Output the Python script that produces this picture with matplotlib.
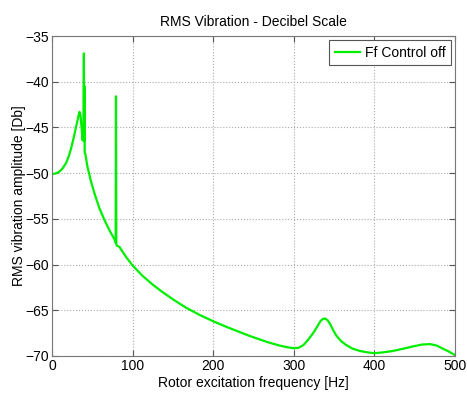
import matplotlib
matplotlib.use("Agg")
import matplotlib.pyplot as plt

plt.rcParams['font.family'] = ['Liberation Sans', 'DejaVu Sans']

freq_hz = [0, 4, 9, 13, 17.5, 21, 23.7, 26.5, 29, 31.5, 33, 34.2, 35.3, 36.8, 38.0,
           39.0, 39.6, 40.0, 40.3, 40.6, 41.4, 44, 48.4, 53, 58.7, 65, 71, 77.3,
           79.0, 79.4, 79.8, 80.2, 84, 87.6, 93, 100, 112, 125, 137, 150, 166, 183,
           200, 216, 232, 245, 258, 270, 282, 292, 300, 306, 312, 318, 324, 329,
           333, 336, 339, 342, 345, 349, 353, 359, 365, 373, 382, 391, 400, 411,
           423, 436, 448, 459, 469, 477, 485, 492, 500]
rms_db = [-50.1, -50.05, -49.85, -49.5, -48.9, -48.1, -47.3, -46.3, -45.3, -44.3,
          -43.7, -43.3, -43.6, -45.1, -46.4,
          -45.0, -36.9, -46.5, -40.5, -47.8, -47.9, -49.3, -50.9, -52.3, -53.8,
          -55.1, -56.2, -57.2,
          -57.6, -41.6, -57.7, -57.9, -58.1, -58.6, -59.3, -60.1, -61.2, -62.2,
          -63.0, -63.8, -64.7, -65.5,
          -66.2, -66.8, -67.35, -67.8, -68.2, -68.55, -68.85, -69.05, -69.15, -69.1,
          -68.8, -68.2, -67.5, -66.8,
          -66.2, -65.95, -65.9, -66.1, -66.5, -67.2, -67.8, -68.4, -68.8, -69.2,
          -69.45, -69.6, -69.7, -69.6,
          -69.45, -69.2, -68.95, -68.75, -68.7, -68.85, -69.2, -69.5, -69.9]

x_ticks = [0, 100, 200, 300, 400, 500]
y_ticks = [-70, -65, -60, -55, -50, -45, -40, -35]

fig = plt.figure(figsize=(4.67, 3.97), dpi=100)
ax = fig.add_axes([0.1113, 0.1033, 0.8630, 0.8060])
ax.plot(freq_hz, rms_db, color='#00ee00', linewidth=1.6, label='Ff Control off')
ax.set_xlim(0, 500)
ax.set_ylim(-70, -35)
ax.set_xticks(x_ticks)
ax.set_yticks(y_ticks)
ax.grid(True, linestyle=':', color='#aaaaaa', linewidth=0.8)
ax.tick_params(direction='in', length=4, top=True, right=True, labelsize=10,
               color='#555555', pad=2)
for s in ax.spines.values():
    s.set_color('#777777')
    s.set_linewidth(0.8)
ax.set_xlabel('Rotor excitation frequency [Hz]', fontsize=10, labelpad=2)
ax.set_ylabel('RMS vibration amplitude [Db]', fontsize=10, labelpad=0)
ax.set_title('RMS Vibration - Decibel Scale', fontsize=10, pad=7)
leg = ax.legend(loc='upper right', fontsize=10, frameon=True, fancybox=False,
                framealpha=1, edgecolor='#555555', handlelength=1.8,
                borderaxespad=0.3, borderpad=0.4, handletextpad=0.35)
leg.get_frame().set_linewidth(0.8)
fig.savefig('out.png', dpi=100)
